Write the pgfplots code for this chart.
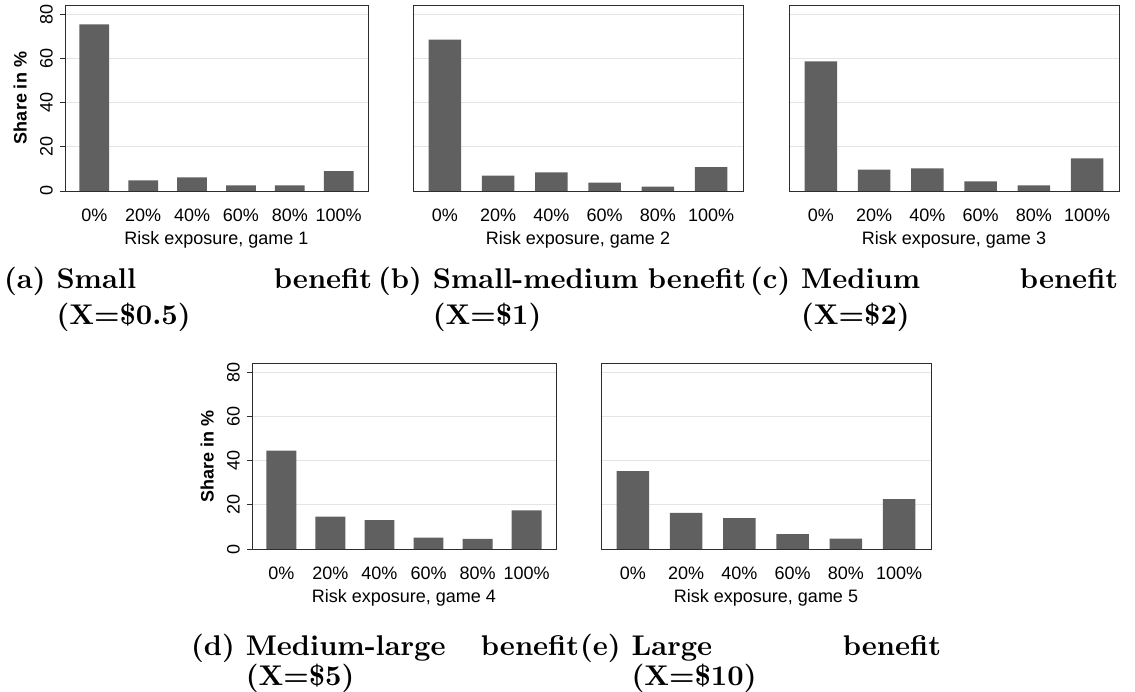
\documentclass[border=0pt]{standalone}
\usepackage{fontspec}
\setsansfont{Liberation Sans}
\newfontfamily\capbf{lmroman10-bold.otf}
\usepackage{pgfplots}
\pgfplotsset{compat=1.18}

\definecolor{barcol}{RGB}{96,96,96}
\definecolor{gridcol}{RGB}{228,228,228}
\definecolor{framecol}{RGB}{45,45,45}

\newcommand\axfont{\sffamily\fontsize{18}{21}\selectfont}
\newcommand\capfont{\capbf\fontsize{28.5}{34}\selectfont}

\pgfplotsset{
  riskpanel/.style={
    scale only axis, height=186pt, anchor=north west,
    xmin=-0.6, xmax=5.6, ymin=0, ymax=84.07,
    xtick={0,1,2,3,4,5},
    xticklabels={0\%,20\%,40\%,60\%,80\%,100\%},
    ytick={0,20,40,60,80},
    yticklabels={0,20,40,60,80},
    ymajorgrids,
    grid style={draw=gridcol, line width=0.8pt},
    axis line style={draw=framecol, line width=0.8pt},
    tick align=outside, major tick length=5pt,
    ytick pos=left,
    xtick style={draw=none},
    ytick style={draw=framecol, line width=0.8pt},
    xticklabel style={font=\axfont, anchor=north, inner sep=0pt, yshift=-13pt},
    yticklabel style={font=\axfont, rotate=90, anchor=south, inner sep=0pt},
    yticklabel shift=7pt,
    xlabel style={font=\axfont, at={(axis description cs:0.5,0)}, anchor=base, yshift=-54pt},
    ylabel style={font=\axfont\bfseries, at={(axis description cs:-0.125,0.5)}, anchor=south, inner sep=0pt},
  },
  nolabels/.style={yticklabels={}, ytick style={draw=none}},
  riskbars/.style={ybar, bar width=0.61, fill=barcol, draw=none},
}

\begin{document}
\begin{tikzpicture}
\path[use as bounding box] (0pt,0pt) rectangle (1135pt,-692pt);

% Game 1: small benefit
\begin{axis}[riskpanel, at={(65pt,-5pt)}, width=303pt,
  xlabel={Risk exposure, game 1}, ylabel={Share in \%}]
\addplot[riskbars] coordinates {(0,75.3) (1,4.8) (2,6.1) (3,2.5) (4,2.5) (5,9.0)};
\end{axis}

% Game 2: small-medium benefit
\begin{axis}[riskpanel, nolabels, at={(413pt,-5pt)}, width=330pt,
  xlabel={Risk exposure, game 2}]
\addplot[riskbars] coordinates {(0,68.4) (1,6.9) (2,8.4) (3,3.8) (4,2.0) (5,10.8)};
\end{axis}

% Game 3: medium benefit
\begin{axis}[riskpanel, nolabels, at={(789pt,-5pt)}, width=330pt,
  xlabel={Risk exposure, game 3}]
\addplot[riskbars] coordinates {(0,58.6) (1,9.7) (2,10.2) (3,4.3) (4,2.5) (5,14.7)};
\end{axis}

% Game 4: medium-large benefit
\begin{axis}[riskpanel, at={(252pt,-363pt)}, width=304pt,
  xlabel={Risk exposure, game 4}, ylabel={Share in \%}]
\addplot[riskbars] coordinates {(0,44.5) (1,14.6) (2,13.1) (3,5.1) (4,4.6) (5,17.5)};
\end{axis}

% Game 5: large benefit
\begin{axis}[riskpanel, nolabels, at={(601pt,-363pt)}, width=330pt,
  xlabel={Risk exposure, game 5}]
\addplot[riskbars] coordinates {(0,35.2) (1,16.3) (2,13.9) (3,6.7) (4,4.7) (5,22.5)};
\end{axis}

% Sub-captions
\begin{scope}[every node/.style={anchor=base west, inner sep=0pt}]
\node at (4pt,-289pt)   {\capfont\hbox to 368pt{(a) Small\hfill benefit}};
\node at (4pt,-325pt)   {\capfont\phantom{(a) }(X=\$0.5)};
\node at (378pt,-289pt) {\capfont\hbox to 368pt{(b) Small-medium\hfill benefit}};
\node at (378pt,-325pt) {\capfont\phantom{(b) }(X=\$1)};
\node at (750pt,-289pt) {\capfont\hbox to 368pt{(c) Medium\hfill benefit}};
\node at (750pt,-325pt) {\capfont\phantom{(c) }(X=\$2)};
\node at (191pt,-655pt) {\capfont\hbox to 388pt{(d) Medium-large\hfill benefit}};
\node at (191pt,-685pt) {\capfont\phantom{(d) }(X=\$5)};
\node at (580pt,-655pt) {\capfont\hbox to 361pt{(e) Large\hfill benefit}};
\node at (580pt,-685pt) {\capfont\phantom{(e) }(X=\$10)};
\end{scope}
\end{tikzpicture}
\end{document}
